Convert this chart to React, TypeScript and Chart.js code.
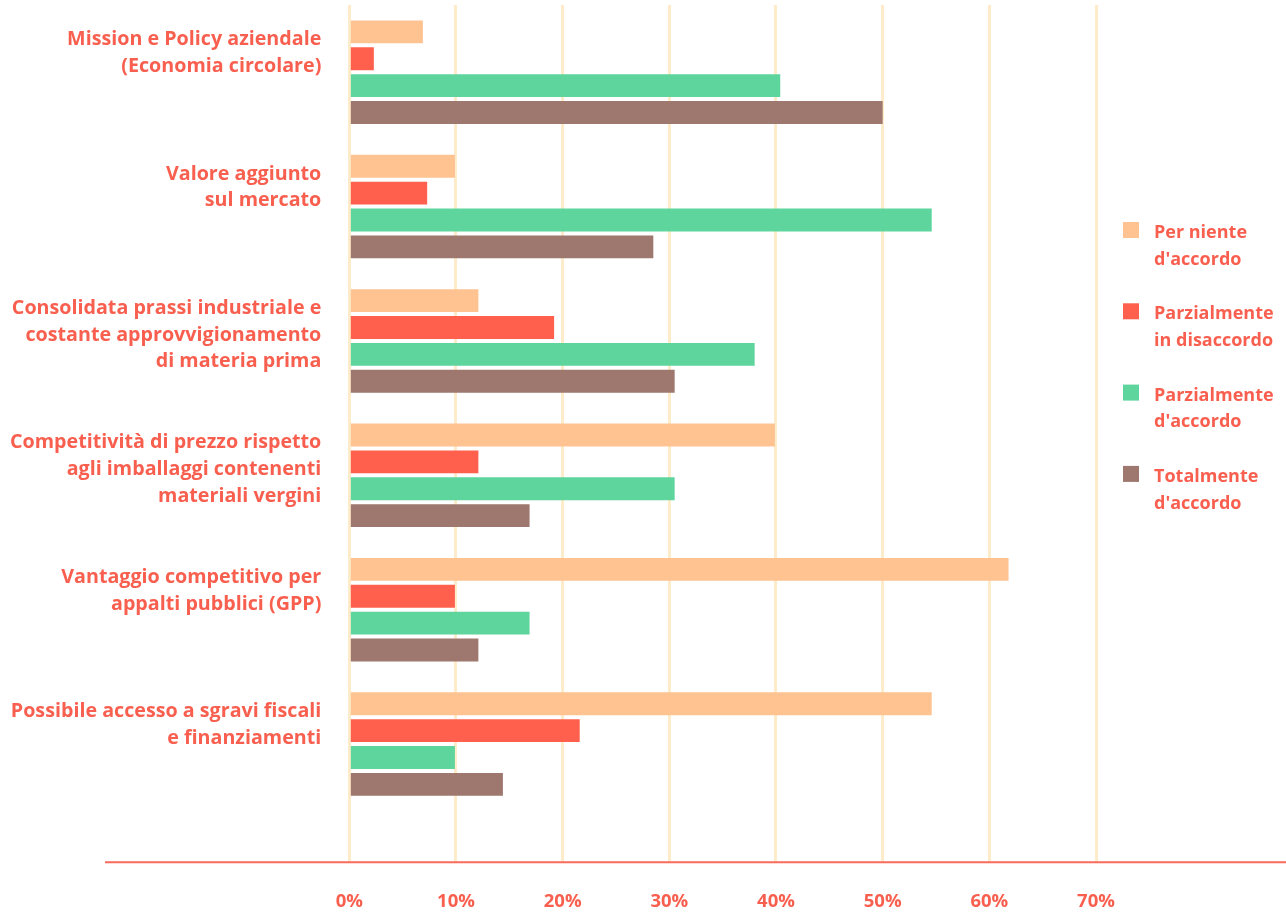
import React, { useEffect, useRef } from 'react';
import { Chart, registerables } from 'chart.js';

Chart.register(...registerables);

const categories: string[][] = [
  ['Mission e Policy aziendale', '(Economia circolare)'],
  ['Valore aggiunto', 'sul mercato'],
  ['Consolidata prassi industriale e', 'costante approvvigionamento', 'di materia prima'],
  ['Competitività di prezzo rispetto', 'agli imballaggi contenenti', 'materiali vergini'],
  ['Vantaggio competitivo per', 'appalti pubblici (GPP)'],
  ['Possibile accesso a sgravi fiscali', 'e finanziamenti'],
];

const seriesLabels: string[][] = [
  ['Per niente', "d'accordo"],
  ['Parzialmente', 'in disaccordo'],
  ['Parzialmente', "d'accordo"],
  ['Totalmente', "d'accordo"],
];

const perNiente = [6.9, 9.9, 12.1, 39.9, 61.8, 54.6];
const parzDisaccordo = [2.3, 7.3, 19.2, 12.1, 9.9, 21.6];
const parzAccordo = [40.4, 54.6, 38.0, 30.5, 16.9, 9.9];
const totalmente = [50.0, 28.5, 30.5, 16.9, 12.1, 14.4];

const xTicks = [0, 10, 20, 30, 40, 50, 60, 70];

const seriesColors = ['#fec391', '#ff5f4d', '#5dd59d', '#9e776e'];
const textColor = '#f95f4f';
const gridColor = '#feebc9';
const axisColor = '#f96a5a';
const fontFamily = '"Open Sans", "Noto Sans", sans-serif';

const pad3 = (l: string[]) => {
  const out = l.slice();
  while (out.length < 3) out.push('');
  return out;
};

const axisLinePlugin = {
  id: 'axisLine',
  afterDraw(chart: any) {
    const { ctx, chartArea, width } = chart;
    const y = chartArea.bottom + 51;
    ctx.save();
    ctx.strokeStyle = axisColor;
    ctx.lineWidth = 2;
    ctx.beginPath();
    ctx.moveTo(105, y);
    ctx.lineTo(width, y);
    ctx.stroke();
    ctx.restore();
  },
};

const legendPlugin = {
  id: 'customLegend',
  afterDraw(chart: any) {
    const { ctx } = chart;
    const boxX = 1123;
    const textX = 1154;
    const startY = 230;
    const step = 81.3;
    const lh = 26.5;
    ctx.save();
    ctx.font = `bold 18px ${fontFamily}`;
    ctx.textBaseline = 'middle';
    ctx.textAlign = 'left';
    chart.data.datasets.forEach((ds: any, i: number) => {
      const cy = startY + i * step;
      ctx.fillStyle = ds.backgroundColor;
      ctx.fillRect(boxX, cy - 8, 16, 16);
      ctx.fillStyle = textColor;
      (ds.legendLines as string[]).forEach((line, j) => {
        ctx.fillText(line, textX, cy + 3 + j * lh);
      });
    });
    ctx.restore();
  },
};

export default function App() {
  const ref = useRef<HTMLCanvasElement>(null);
  useEffect(() => {
    const series = [perNiente, parzDisaccordo, parzAccordo, totalmente];
    const chart = new Chart(ref.current as HTMLCanvasElement, {
      type: 'bar',
      data: {
        labels: categories.map(pad3),
        datasets: series.map((d, i) => ({
          label: seriesLabels[i].join(' '),
          legendLines: seriesLabels[i],
          data: d,
          backgroundColor: seriesColors[i],
          borderWidth: 0,
          categoryPercentage: 0.8,
          barPercentage: 0.85,
        })) as any,
      },
      options: {
        indexAxis: 'y',
        responsive: false,
        animation: false,
        layout: { padding: { top: 5, right: 190, bottom: 0, left: 0 } },
        plugins: {
          legend: { display: false },
          tooltip: { enabled: false },
        },
        scales: {
          x: {
            type: 'linear',
            min: 0,
            max: 70,
            afterBuildTicks: (s: any) => {
              s.ticks = xTicks.map((v) => ({ value: v }));
            },
            ticks: {
              callback: (v: any) => v + '%',
              color: textColor,
              font: { family: fontFamily, size: 18.5, weight: 'bold' },
              padding: 28,
              maxRotation: 0,
            },
            grid: { color: gridColor, lineWidth: 3, tickLength: 51, drawTicks: true },
            border: { display: false },
            afterFit: (s: any) => {
              s.height = 100.7;
              s.paddingLeft = 0;
              s.paddingRight = 0;
            },
          },
          y: {
            ticks: {
              color: textColor,
              font: { family: fontFamily, size: 19.7, weight: 'bold', lineHeight: 1.355 },
              padding: 28,
              labelOffset: -5.8,
              autoSkip: false,
            },
            grid: { display: false, drawTicks: false },
            border: { display: false },
            afterFit: (s: any) => {
              s.width = 349.3;
              s.paddingTop = 0;
              s.paddingBottom = 0;
            },
          },
        },
      } as any,
      plugins: [axisLinePlugin, legendPlugin],
    });
    return () => chart.destroy();
  }, []);
  return (
    <div style={{ position: 'absolute', left: 0, top: 0, width: 1286, height: 912, background: '#fff' }}>
      <canvas ref={ref} width={1286} height={912} />
    </div>
  );
}
